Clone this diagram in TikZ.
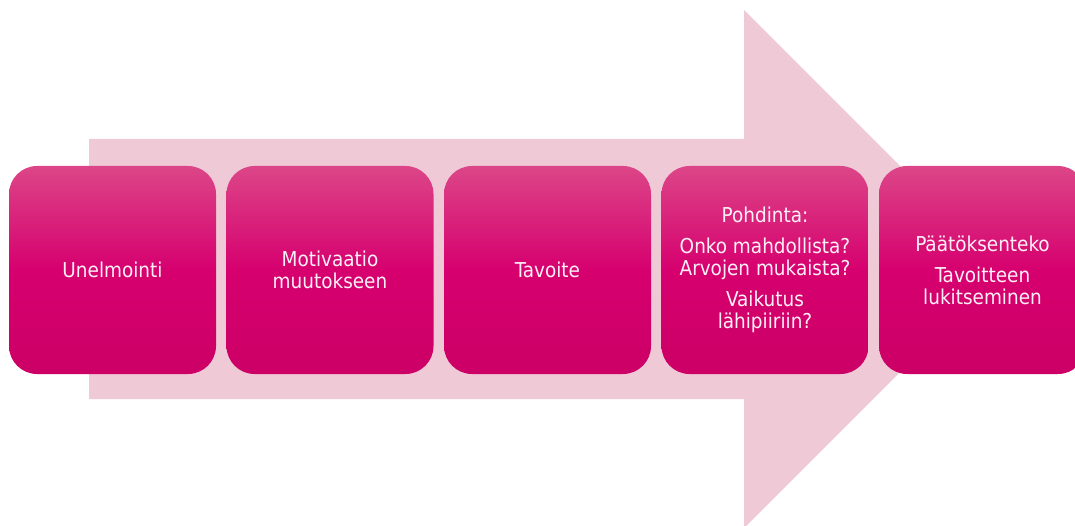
\documentclass[tikz,border=0pt]{standalone}
\usepackage{fontspec}
\setmainfont{DejaVu Sans Condensed}
\usetikzlibrary{positioning}

\definecolor{arrowpink}{HTML}{EFCAD6}
\definecolor{steptop}{HTML}{DC4688}
\definecolor{stepmid}{HTML}{D6006F}
\definecolor{stepbot}{HTML}{CC0066}
\definecolor{steptext}{HTML}{FDEFF5}

\tikzset{
  stepbox/.style={rounded corners=28pt, minimum width=207pt, minimum height=208pt,
    inner sep=0pt, outer sep=0pt, top color=steptop, bottom color=stepbot,
    middle color=stepmid, text=steptext, align=center,
    font=\fontsize{20.5}{22}\selectfont},
}

\begin{document}
\begin{tikzpicture}[x=1pt, y=-1pt, node distance=10.5pt]
    \useasboundingbox (0,0) rectangle (1075,526);
    \clip (0,0) rectangle (1075,526);

    % Background arrow
    \fill[arrowpink] (89,139) -- (744,139) -- (744,10) -- (1003,269)
        -- (744,528) -- (744,399) -- (89,399) -- cycle;

    % Steps
    \node[stepbox] (unelmointi) at (112.5,270) {Unelmointi};
    \node[stepbox, right=of unelmointi] (motivaatio) {Motivaatio\\muutokseen};
    \node[stepbox, right=of motivaatio] (tavoite) {Tavoite};
    \node[stepbox, right=of tavoite] (pohdinta)
        {Pohdinta:\\[9pt]Onko mahdollista?\\Arvojen mukaista?\\[9pt]Vaikutus\\lähipiiriin?};
    \node[stepbox, right=of pohdinta] (paatos)
        {Päätöksenteko\\[9pt]Tavoitteen\\lukitseminen};
\end{tikzpicture}
\end{document}
